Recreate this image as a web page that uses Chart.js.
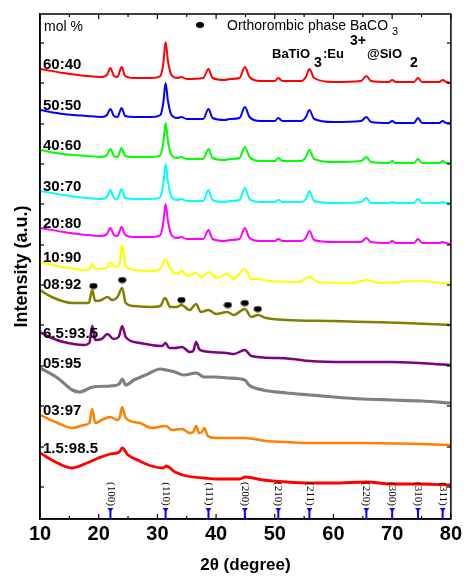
<!DOCTYPE html>
<html>
<head>
<meta charset="utf-8">
<script src="https://cdn.jsdelivr.net/npm/chart.js@4.4.1/dist/chart.umd.min.js"></script>
<style>
  html, body { margin: 0; padding: 0; background: #fff; }
  #wrap { width: 465px; height: 576px; }
</style>
</head>
<body>
<div id="wrap"><canvas id="xrdChart" width="465" height="576"></canvas></div>
<script>
// 2theta grid shared by the well crystallised samples (60:40 .. 20:80)
const gridX = [10, 14, 18, 20.5, 21.4, 22.0, 22.6, 23.2, 23.9, 24.5,
    26, 29, 30.5, 31.0, 31.4, 31.8, 32.4, 33.4, 34.1, 35,
    37.8, 38.7, 39.4, 41.5, 42.3, 44.0, 44.9, 45.7, 47.5, 50.0,
    50.6, 51.3, 54.5, 55.3, 55.9, 56.7, 60, 64.7, 65.6, 66.4,
    69.4, 70.0, 70.6, 73.7, 74.4, 75.1, 78.0, 78.6, 79.2, 80];

// intensities, already stacked (arbitrary units)
const s6040 = [450, 446, 443, 442, 444, 451, 443, 442, 452, 443,
    441, 441, 443, 455, 477, 458, 444, 441, 442, 440,
    441, 450, 441, 439, 440, 441, 452, 442, 438, 438,
    441, 438, 438, 442, 450, 441, 437, 438, 443, 438,
    437, 439, 437, 437, 441, 437, 437, 439, 437, 436];
const s5050 = [409, 405, 403, 402, 404, 410, 403, 402, 411, 403,
    402, 402, 404, 416, 436, 418, 404, 401, 402, 400,
    400, 410, 401, 399, 400, 401, 412, 402, 398, 398,
    401, 398, 398, 402, 409, 400, 397, 398, 402, 397,
    396, 398, 396, 396, 401, 396, 396, 398, 396, 396];
const s4060 = [369, 365, 363, 362, 364, 370, 363, 362, 371, 363,
    362, 362, 364, 376, 396, 378, 364, 361, 362, 360,
    360, 370, 361, 359, 360, 361, 372, 362, 358, 358,
    361, 358, 358, 362, 369, 360, 357, 358, 362, 357,
    356, 358, 356, 356, 360, 356, 356, 358, 356, 356];
const s3070 = [328, 324, 321, 320, 322, 329, 321, 320, 330, 321,
    320, 320, 322, 335, 355, 337, 322, 319, 320, 318,
    318, 329, 319, 317, 318, 319, 331, 320, 317, 317,
    319, 317, 317, 320, 328, 318, 316, 317, 321, 316,
    316, 317, 316, 316, 320, 316, 316, 317, 316, 316];
const s2080 = [291, 287, 284, 283, 285, 291, 284, 283, 292, 284,
    282, 282, 284, 296, 315, 298, 284, 281, 282, 280,
    280, 289, 280, 278, 279, 280, 291, 281, 278, 278,
    280, 278, 278, 281, 288, 279, 277, 277, 281, 277,
    276, 278, 276, 276, 280, 276, 276, 277, 276, 275];

const x1090 = [10, 13, 16, 18.3, 18.9, 19.5, 21.3, 22.0, 22.7, 23.5,
    24.0, 24.6, 26, 29, 30.6, 31.4, 32.2, 33.4, 34.1, 35.2,
    36.5, 37.5, 38.9, 40, 41.9, 43, 44.9, 46, 47, 49,
    54, 55.9, 57.5, 63, 65.6, 68, 74.4, 80];
const s1090 = [257, 253, 250, 249, 255, 250, 251, 257, 252, 254,
    274, 253, 249, 248, 251, 260, 250, 245, 248, 243,
    246, 242, 247, 241, 245, 240, 250, 240, 240, 238,
    237, 242, 237, 236, 239, 236, 238, 235];

const x0892 = [10, 12, 15.5, 18.3, 18.9, 19.4, 20.5, 21.5, 22.3, 23.2,
    24.0, 24.6, 26, 29, 30.5, 31.3, 32.2, 33.3, 34.1, 35.5,
    36.6, 37.4, 38.7, 40, 41.9, 43, 44.9, 46, 47.1, 48.5,
    52, 60, 66, 72, 80];
const s0892 = [229, 222, 216, 216, 229, 218, 219, 222, 219, 222,
    231, 216, 213, 212, 213, 221, 212, 212, 214, 209,
    215, 207, 209, 205, 207, 204, 210, 202, 204, 201,
    199, 198, 197, 196, 194];

const x65 = [10, 12, 14, 17.5, 18.4, 18.9, 19.4, 20.5, 21.5, 22.5,
    23.4, 24.0, 24.6, 27, 29, 30.8, 31.4, 32, 33, 34.2,
    35.5, 36.1, 36.6, 37.1, 37.8, 39, 41.8, 43, 44.9, 46,
    50.5, 53, 56, 62, 70, 80];
const s65 = [187, 181, 177, 174, 176, 193, 179, 180, 185, 180,
    182, 193, 182, 176, 174, 173, 176, 171, 171, 172,
    167, 168, 177, 170, 168, 167, 166, 165, 169, 163,
    161, 160, 158, 157, 157, 154];

const x0595 = [10, 13, 15.5, 16.7, 19, 22, 23.5, 24.0, 24.6, 26,
    28, 30.5, 31.5, 33, 34.5, 36.6, 38, 40, 42, 44.9,
    45.6, 48, 52, 56, 60, 65, 70, 75, 80];
const s0595 = [151, 141, 129, 127, 132, 133, 135, 140, 134, 139,
    144, 150, 149, 147, 144, 146, 142, 142, 141, 139,
    134, 129, 126, 124, 122, 120, 119, 118, 116];

const x0397 = [10, 13, 15.5, 17.5, 18.4, 18.9, 19.4, 20.5, 22, 23.2,
    23.6, 24.0, 24.6, 27, 29, 31.4, 32.5, 34.2, 35.5, 36.1,
    36.6, 37.1, 37.6, 38.0, 38.6, 40, 45, 48.5, 52, 56,
    65, 75, 80];
const s0397 = [104, 96, 91, 94, 96, 110, 96, 99, 102, 99,
    102, 112, 101, 96, 91, 93, 89, 90, 86, 87,
    93, 86, 87, 91, 83, 81, 81, 78, 77, 76,
    76, 75, 74];

const x15 = [10, 13, 15.5, 18, 20, 22, 23.5, 24.0, 25, 27,
    29, 31, 31.5, 33, 35, 38, 40, 44, 45, 48,
    52, 56, 60, 65.6, 70, 75, 80];
const s15 = [66, 56, 51, 56, 61, 65, 67, 71, 64, 58,
    53, 51, 53, 47, 43, 41, 40, 40, 42, 39,
    37, 36, 36, 37, 35, 35, 34];

const sampleLabels = ["60:40", "50:50", "40:60", "30:70", "20:80", "10:90",
    "08:92", "6.5:93.5", "05:95", "03:97", "1.5:98.5"];

// BaCO3 markers on the 08:92 pattern
const carbX = [19.1, 24.0, 34.1, 42.0, 44.9, 47.1];
const carbY = [233, 239, 219, 214, 216, 210];

// cubic BaTiO3 reflections
const refPos = [22.0, 31.4, 38.7, 44.9, 50.6, 55.9, 65.6, 70.0, 74.4, 78.6];
const refHkl = ["(100)", "(110)", "(111)", "(200)", "(210)", "(211)", "(220)", "(300)", "(310)", "(311)"];

const yTickVals = [32, 72, 113, 153, 194, 234, 274, 315, 355, 395, 436, 476];

const series = [
    { xs: gridX, ys: s6040, color: "#ff0000", width: 2 },
    { xs: gridX, ys: s5050, color: "#0000ff", width: 2 },
    { xs: gridX, ys: s4060, color: "#00ff00", width: 2 },
    { xs: gridX, ys: s3070, color: "#00ffff", width: 2 },
    { xs: gridX, ys: s2080, color: "#ff00ff", width: 2 },
    { xs: x1090, ys: s1090, color: "#ffff00", width: 2.2 },
    { xs: x0892, ys: s0892, color: "#808000", width: 2.5 },
    { xs: x65, ys: s65, color: "#800080", width: 2.5 },
    { xs: x0595, ys: s0595, color: "#808080", width: 3.2 },
    { xs: x0397, ys: s0397, color: "#ff8000", width: 2.5 },
    { xs: x15, ys: s15, color: "#ff0000", width: 2.8 }
];

const datasets = series.map((s, i) => ({
    label: sampleLabels[i],
    data: s.xs.map((x, j) => ({ x: x, y: s.ys[j] })),
    borderColor: s.color,
    borderWidth: s.width,
    pointRadius: 0,
    fill: false,
    cubicInterpolationMode: "monotone"
}));

const dotImg = document.createElement("canvas");
dotImg.width = 9;
dotImg.height = 7;
const dctx = dotImg.getContext("2d");
dctx.fillStyle = "#000";
dctx.beginPath();
dctx.ellipse(4.5, 3.5, 4, 3, 0, 0, Math.PI * 2);
dctx.fill();

datasets.push({
    type: "scatter",
    label: "BaCO3",
    data: carbX.map((x, j) => ({ x: x, y: carbY[j] })),
    pointStyle: dotImg,
    pointRadius: 4,
    showLine: false
});

const sans = "'Liberation Sans', Arial, sans-serif";
const labelLift = [0, 0, 0, 0, 0, 0, 1, -6, 0, 0, 0];

const decorations = {
    id: "decorations",
    afterDatasetsDraw(chart) {
        const ctx = chart.ctx;
        const a = chart.chartArea;
        const xs = chart.scales.x;
        const ys = chart.scales.y;

        function seg(x1, y1, x2, y2) {
            ctx.beginPath();
            ctx.moveTo(x1, y1);
            ctx.lineTo(x2, y2);
            ctx.stroke();
        }

        ctx.save();

        // frame and inward ticks
        ctx.strokeStyle = "#000";
        ctx.lineWidth = 1.5;
        ctx.strokeRect(a.left, a.top, a.right - a.left, a.bottom - a.top);
        ctx.lineWidth = 1.2;
        for (let v = 10; v <= 80; v += 5) {
            const px = xs.getPixelForValue(v);
            const len = v % 10 === 0 ? 5 : 3;
            seg(px, a.bottom, px, a.bottom - len);
            seg(px, a.top, px, a.top + len);
        }
        ys.ticks.forEach(t => {
            const py = ys.getPixelForValue(t.value);
            seg(a.left, py, a.left + 4, py);
            seg(a.right, py, a.right - 4, py);
        });

        // sample labels
        ctx.fillStyle = "#000";
        ctx.font = "bold 15px " + sans;
        ctx.textAlign = "left";
        ctx.textBaseline = "alphabetic";
        sampleLabels.forEach((lab, i) => {
            const py = ys.getPixelForValue(series[i].ys[0]);
            ctx.fillText(lab, 43, py - labelLift[i]);
        });

        // reference reflections
        ctx.strokeStyle = "#0000ff";
        ctx.fillStyle = "#0000ff";
        ctx.lineWidth = 2;
        refPos.forEach(p => {
            const px = xs.getPixelForValue(p);
            seg(px, a.bottom, px, a.bottom - 9);
            ctx.beginPath();
            ctx.moveTo(px - 3, a.bottom - 11);
            ctx.lineTo(px + 3, a.bottom - 11);
            ctx.lineTo(px, a.bottom - 7);
            ctx.closePath();
            ctx.fill();
        });
        ctx.fillStyle = "#000";
        ctx.font = "11px 'Liberation Serif', 'Times New Roman', serif";
        ctx.textAlign = "center";
        ctx.textBaseline = "middle";
        refPos.forEach((p, i) => {
            const px = xs.getPixelForValue(p);
            ctx.save();
            ctx.translate(px, a.bottom - 25);
            ctx.rotate(Math.PI / 2);
            ctx.fillText(refHkl[i], 0, 0);
            ctx.restore();
        });

        // header texts
        ctx.textAlign = "left";
        ctx.textBaseline = "alphabetic";
        ctx.font = "14px " + sans;
        ctx.fillText("mol %", 44, 31);

        ctx.beginPath();
        ctx.ellipse(200, 25, 4, 3, 0, 0, Math.PI * 2);
        ctx.fill();
        ctx.fillText("Orthorombic phase BaCO", 227, 30);
        const w = ctx.measureText("Orthorombic phase BaCO").width;
        ctx.font = "11px " + sans;
        ctx.fillText("3", 227 + w + 4, 35);

        ctx.font = "bold 13px " + sans;
        ctx.fillText("BaTiO", 272, 58);
        ctx.font = "bold 14px " + sans;
        ctx.fillText("3", 314, 67);
        ctx.font = "bold 13px " + sans;
        ctx.fillText(":Eu", 323, 58);
        ctx.font = "bold 14px " + sans;
        ctx.fillText("3+", 350, 45);
        ctx.font = "bold 13px " + sans;
        ctx.fillText("@SiO", 367, 58);
        ctx.font = "bold 14px " + sans;
        ctx.fillText("2", 410, 67);

        ctx.restore();
    }
};

new Chart(document.getElementById("xrdChart"), {
    type: "line",
    data: { datasets: datasets },
    options: {
        responsive: false,
        animation: false,
        layout: { padding: { top: 14, right: 10, left: 0, bottom: 0 } },
        plugins: {
            legend: { display: false },
            tooltip: { enabled: false }
        },
        scales: {
            x: {
                type: "linear",
                min: 10,
                max: 80,
                grid: { display: false, drawTicks: false },
                border: { display: true, color: "#000", width: 1.5 },
                ticks: {
                    stepSize: 10,
                    padding: 3,
                    color: "#000",
                    font: { family: sans, size: 20, weight: "bold" }
                },
                title: {
                    display: true,
                    text: "2θ (degree)",
                    color: "#000",
                    padding: { top: 0, bottom: 0 },
                    font: { family: sans, size: 17, weight: "bold" }
                },
                afterFit: (scale) => { scale.height = 57; }
            },
            y: {
                min: 0,
                max: 505,
                grid: { display: false, drawTicks: false },
                border: { display: true, color: "#000", width: 1.5 },
                ticks: { display: false },
                afterBuildTicks: (scale) => { scale.ticks = yTickVals.map(v => ({ value: v })); },
                title: {
                    display: true,
                    text: "Intensity (a.u.)",
                    color: "#000",
                    padding: { top: 11, bottom: 0 },
                    font: { family: sans, size: 18, weight: "bold" }
                },
                afterFit: (scale) => { scale.width = 40; }
            }
        }
    },
    plugins: [decorations]
});
</script>
</body>
</html>
